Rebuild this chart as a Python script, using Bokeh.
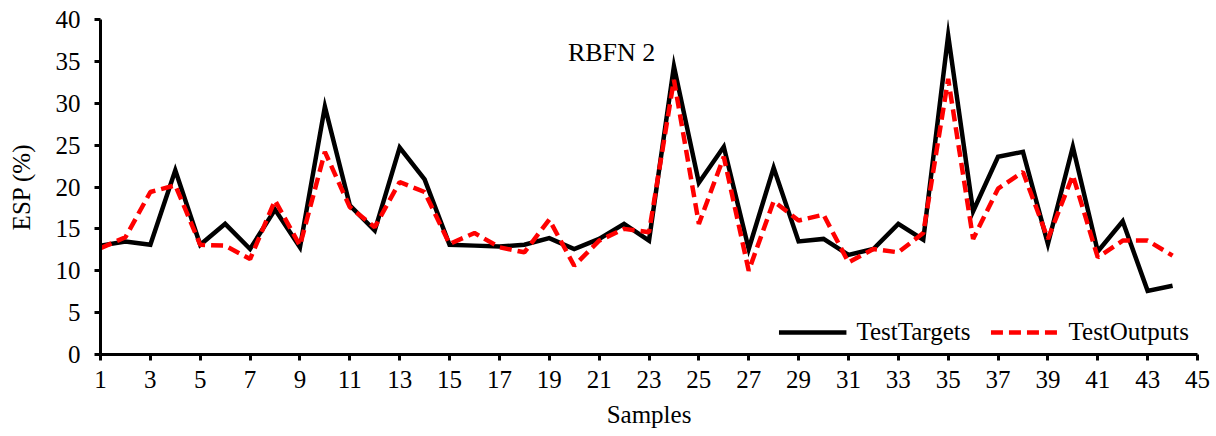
from bokeh.plotting import figure
from bokeh.models import Range1d, FixedTicker, Label, Legend, LegendItem
from bokeh.embed import file_html
from bokeh.resources import INLINE

samples = list(range(1, 45))
test_targets = [13.0, 13.5, 13.1, 22.0, 13.1, 15.6, 12.6, 17.3, 12.8, 29.6,
                17.8, 14.8, 24.7, 20.9, 13.1, 13.0, 12.9, 13.1, 13.9, 12.6,
                13.8, 15.6, 13.6, 34.4, 20.5, 24.8, 12.6, 22.3, 13.5, 13.8,
                11.9, 12.6, 15.6, 13.7, 38.1, 17.1, 23.6, 24.2, 13.2, 24.8,
                12.3, 15.9, 7.6, 8.2]
test_outputs = [12.7, 14.0, 19.4, 20.2, 13.1, 13.0, 11.4, 18.4, 13.0, 24.2,
                17.6, 15.2, 20.6, 19.4, 13.2, 14.5, 12.8, 12.2, 16.1, 10.6,
                13.6, 15.0, 14.6, 32.8, 15.6, 23.6, 10.0, 18.3, 16.0, 16.7,
                11.0, 12.6, 12.2, 14.5, 32.9, 13.8, 19.8, 21.8, 13.8, 21.4,
                11.6, 13.6, 13.6, 11.8]
x_ticks = list(range(1, 46, 2))
y_ticks = list(range(0, 41, 5))
title_text = "RBFN 2"
x_label = "Samples"
y_label = "ESP (%)"

FONT = "Liberation Serif"
FS = "25px"

p = figure(width=1216, height=436, output_backend="svg", toolbar_location=None,
           x_range=Range1d(1, 45), y_range=Range1d(0, 40),
           min_border_left=100, min_border_right=19, min_border_top=19, min_border_bottom=82)
p.outline_line_color = None
p.xgrid.visible = False
p.ygrid.visible = False
p.background_fill_color = "white"
p.border_fill_color = "white"

r1 = p.line(samples, test_targets, line_color="black", line_width=4.5, line_join="miter")
r2 = p.line(samples, test_outputs, line_color="red", line_width=4.5, line_dash="12 6")

for ax in (p.xaxis[0], p.yaxis[0]):
    ax.axis_line_width = 3
    ax.axis_line_color = "black"
    ax.major_tick_line_width = 3
    ax.major_tick_line_color = "black"
    ax.major_tick_in = 0
    ax.major_tick_out = 6
    ax.minor_tick_line_color = None
    ax.major_label_text_font = FONT
    ax.major_label_text_font_size = FS
    ax.major_label_text_color = "black"
    ax.axis_label_text_font = FONT
    ax.axis_label_text_font_size = FS
    ax.axis_label_text_font_style = "normal"
    ax.axis_label_text_color = "black"

p.xaxis.ticker = FixedTicker(ticks=x_ticks)
p.yaxis.ticker = FixedTicker(ticks=y_ticks)
p.xaxis.axis_label = x_label
p.yaxis.axis_label = y_label
p.xaxis.major_label_standoff = 10
p.xaxis.axis_label_standoff = 10
p.yaxis.major_label_standoff = 14
p.yaxis.axis_label_standoff = 18

p.add_layout(Label(x=21.5, y=36.1, text=title_text, text_font=FONT, text_font_size="26px",
                   text_align="center", text_baseline="alphabetic", text_color="black"))

legend = Legend(items=[LegendItem(label="TestTargets", renderers=[r1]),
                       LegendItem(label="TestOutputs", renderers=[r2])],
                location="bottom_right", orientation="horizontal",
                border_line_color=None, background_fill_alpha=0,
                label_text_font=FONT, label_text_font_size=FS, label_text_color="black",
                glyph_width=68, label_standoff=10, spacing=20,
                margin=8, padding=2)
p.add_layout(legend)

open("out.html", "w").write(file_html(p, INLINE))
